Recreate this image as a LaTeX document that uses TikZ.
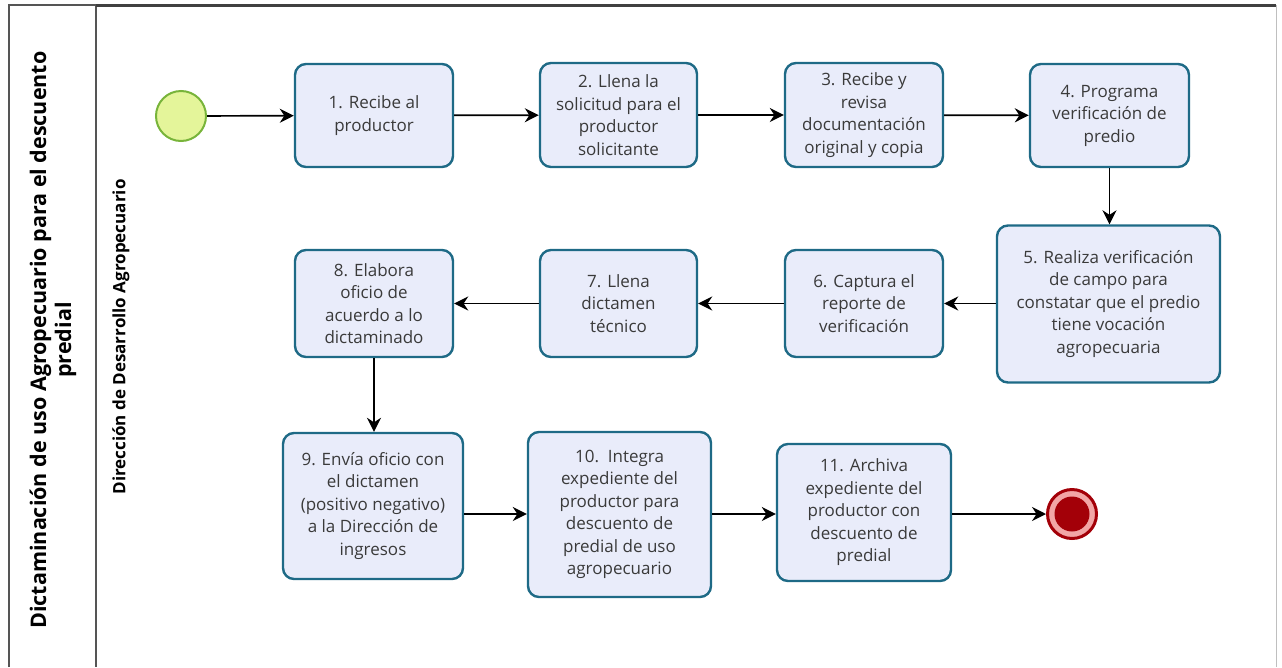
\documentclass[tikz,border=0pt]{standalone}
\usepackage{fontspec}
\setmainfont{Open Sans}
\usetikzlibrary{arrows.meta}
\definecolor{taskfill}{HTML}{E9ECFA}
\definecolor{taskline}{HTML}{1E6A86}
\definecolor{tasktext}{HTML}{3A3A3A}
\definecolor{startfill}{HTML}{E4F59A}
\definecolor{startline}{HTML}{78B43A}
\definecolor{endred}{HTML}{A30008}
\definecolor{endpink}{HTML}{F2A6A6}
\definecolor{frameline}{HTML}{555555}
\begin{document}
\begin{tikzpicture}[x=1pt,y=-1pt,
  task/.style={draw=taskline, line width=2.4pt, fill=taskfill, rounded corners=11pt,
    inner sep=0pt, align=center, text=tasktext, font=\fontsize{17}{22.5}\selectfont},
  flow/.style={draw=black, line width=1.7pt, -{Stealth[length=14pt,width=14pt]}},
  lanetitle/.style={rotate=90, font=\bfseries\fontsize{17}{20}\selectfont},
  pooltitle/.style={rotate=90, align=center, font=\bfseries\fontsize{21.5}{25}\selectfont}]
\useasboundingbox (0,0) rectangle (1282,667);
% pool and lane frame
\draw[frameline, line width=1.2pt] (9,667) -- (9,5) -- (96,5);
\draw[frameline, line width=1.2pt] (96,5) -- (96,667);
\draw[black!75, line width=3pt] (96,5) -- (1276,5);
\draw[black!25, line width=1pt] (1276,5) -- (1276,667);
\node[pooltitle] (pool) at (53,340) {Dictaminación de uso Agropecuario para el descuento\\predial};
\node[lanetitle] (lane) at (121,337) {Dirección de Desarrollo Agropecuario};
% events
\node[circle, draw=startline, line width=2pt, fill=startfill, minimum size=50pt, inner sep=0pt] (start) at (181,116) {};
\node[circle, draw=endred, line width=3pt, fill=endpink, minimum size=49pt, inner sep=0pt] (end) at (1072,514) {};
\node[circle, fill=endred, minimum size=35pt, inner sep=0pt] (endcore) at (end.center) {};
% tasks
\node[task, minimum width=158pt, minimum height=103pt] (t1) at (374,115.5) {1. Recibe al\\productor};
\node[task, minimum width=157pt, minimum height=104pt] (t2) at (618.5,115) {2. Llena la\\solicitud para el\\productor\\solicitante};
\node[task, minimum width=158pt, minimum height=104pt] (t3) at (864,115) {3. Recibe y\\revisa\\documentación\\original y copia};
\node[task, minimum width=159pt, minimum height=103pt] (t4) at (1109.5,115.5) {4. Programa\\verificación de\\predio};
\node[task, minimum width=223pt, minimum height=157pt] (t5) at (1108.5,304) {5. Realiza verificación\\de campo para\\constatar que el predio\\tiene vocación\\agropecuaria};
\node[task, minimum width=158pt, minimum height=107pt] (t6) at (864,303.5) {6. Captura el\\reporte de\\verificación};
\node[task, minimum width=157pt, minimum height=107pt] (t7) at (618.5,303.5) {7. Llena\\dictamen\\técnico};
\node[task, minimum width=158pt, minimum height=107pt] (t8) at (374,303.5) {8. Elabora\\oficio de\\acuerdo a lo\\dictaminado};
\node[task, minimum width=180pt, minimum height=146pt] (t9) at (373,506) {9. Envía oficio con\\el dictamen\\(positivo negativo)\\a la Dirección de\\ingresos};
\node[task, minimum width=183pt, minimum height=165pt] (t10) at (619.5,514.5) {10.\ \ Integra\\expediente del\\productor para\\descuento de\\predial de uso\\agropecuario};
\node[task, minimum width=174pt, minimum height=137pt] (t11) at (864,512.5) {11. Archiva\\expediente del\\productor con\\descuento de\\predial};
% sequence flows
\draw[flow] (start) -- (t1);
\draw[flow] (t1) -- (t2);
\draw[flow] (t2) -- (t3);
\draw[flow] (t3) -- (t4);
\draw[flow] (t4) -- (t5.north -| t4.south);
\draw[flow] (t5.west |- t6.east) -- (t6);
\draw[flow] (t6) -- (t7);
\draw[flow] (t7) -- (t8);
\draw[flow] (t8.south) -- (t9.north -| t8.south);
\draw[flow] (t9.east |- end) -- (t10.west |- end);
\draw[flow] (t10.east |- end) -- (t11.west |- end);
\draw[flow] (t11.east |- end) -- (end);
\end{tikzpicture}
\end{document}
